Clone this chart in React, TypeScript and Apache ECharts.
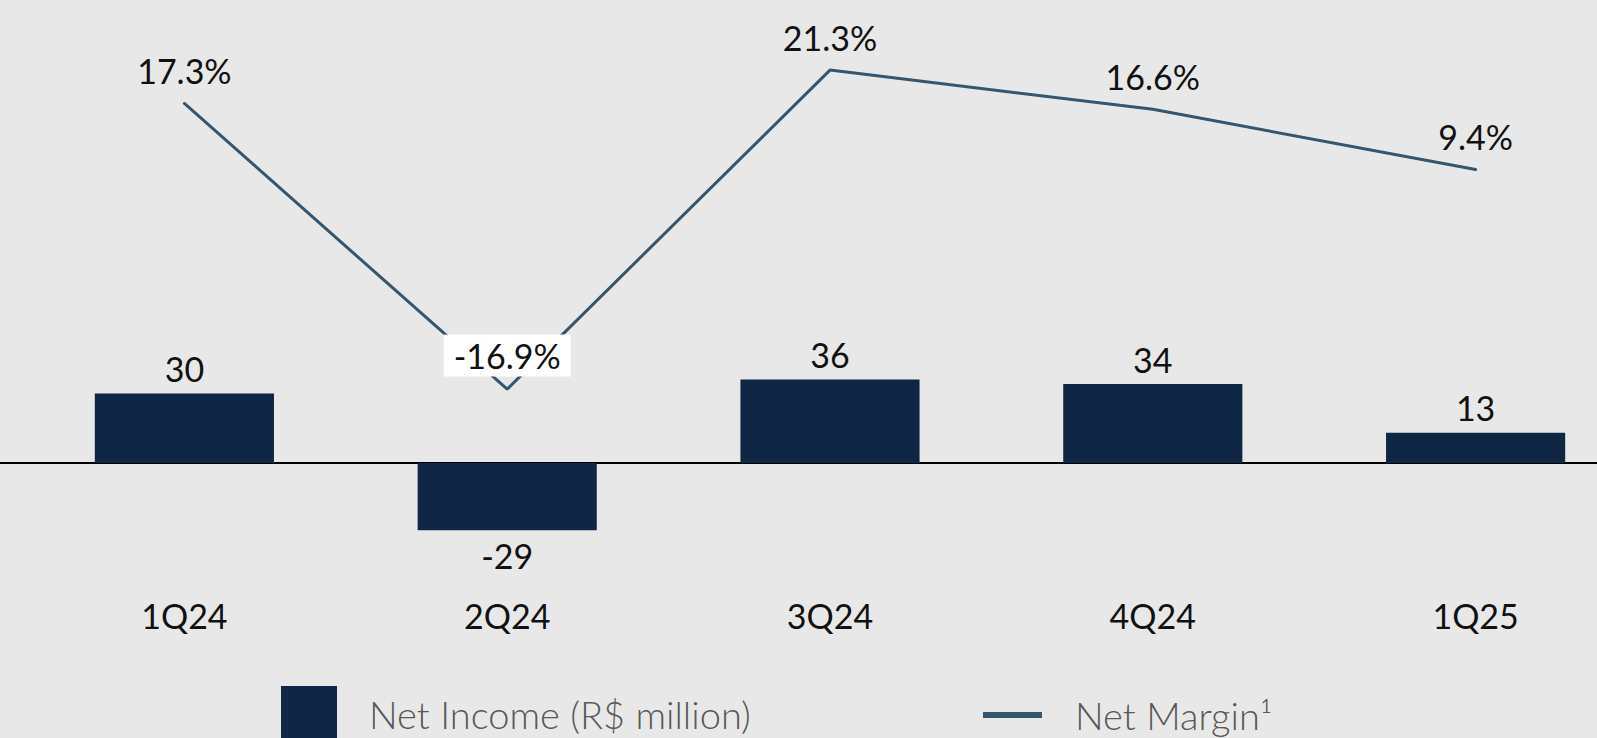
import React, { useEffect, useRef } from "react";
import * as echarts from "echarts";

const categories = ["1Q24", "2Q24", "3Q24", "4Q24", "1Q25"];
const netIncome = [30, -29, 36, 34, 13];
const netMargin = [17.3, -16.9, 21.3, 16.6, 9.4];
const barName = "Net Income (R$ million)";
const lineName = "Net Margin¹";

const FONT = "Lato, 'Noto Sans', sans-serif";
const BAR_COLOR = "#0F2744";
const LINE_COLOR = "#34566E";

export default function App() {
  const ref = useRef<HTMLDivElement>(null);
  useEffect(() => {
    if (!ref.current) return;
    const chart = echarts.init(ref.current, null, { renderer: "svg" });
    const labelText = { fontFamily: FONT, fontSize: 34, lineHeight: 40, color: "#111" };
    const legendText = { fontFamily: FONT, fontSize: 38, lineHeight: 38, color: "#595959", fontWeight: 300 };
    const barMin = -40;
    const barMax = 186.64;
    chart.setOption({
      animation: false,
      backgroundColor: "#E8E8E8",
      textStyle: { fontFamily: FONT },
      grid: [
        { left: 23, width: 1614, top: 30, height: 525.8, outerBoundsMode: "none", containLabel: false },
        { left: 0, width: 1597, top: 30, height: 525.8, outerBoundsMode: "none", containLabel: false },
      ],
      legend: [
        {
          data: [{ name: barName, icon: "rect" }],
          left: 281,
          top: 686,
          padding: 0,
          itemWidth: 56,
          itemHeight: 56,
          textStyle: { ...legendText, padding: [0, 0, 0, 27] },
        },
        {
          data: [{ name: lineName, icon: "rect" }],
          left: 983,
          top: 696,
          padding: 0,
          itemWidth: 59,
          itemHeight: 6,
          textStyle: { ...legendText, padding: [0, 0, 0, 28] },
        },
      ],
      xAxis: [
        {
          type: "category",
          data: categories,
          gridIndex: 0,
          axisLine: { show: false },
          axisTick: { show: false },
          axisLabel: { show: false },
        },
        {
          type: "category",
          data: categories,
          gridIndex: 0,
          position: "bottom",
          axisLine: { show: false, onZero: false },
          axisTick: { show: false },
          axisLabel: { ...labelText, margin: 40 },
        },
        {
          type: "category",
          data: categories,
          gridIndex: 1,
          axisLine: { show: true, onZero: true, lineStyle: { color: "#000", width: 2 } },
          axisTick: { show: false },
          axisLabel: { show: false },
        },
      ],
      yAxis: [
        { type: "value", gridIndex: 0, min: barMin, max: barMax, show: false, splitLine: { show: false } },
        { type: "value", gridIndex: 0, min: -36.86, max: 26.1, show: false, splitLine: { show: false } },
        { type: "value", gridIndex: 1, min: barMin, max: barMax, show: false, splitLine: { show: false } },
      ],
      series: [
        {
          name: barName,
          type: "bar",
          xAxisIndex: 0,
          yAxisIndex: 0,
          barWidth: "55.5%",
          color: BAR_COLOR,
          itemStyle: { color: BAR_COLOR },
          data: netIncome.map((v) => ({
            value: v,
            label: { position: v < 0 ? "bottom" : "top" },
          })),
          label: { show: true, ...labelText, distance: 5 },
        },
        {
          name: lineName,
          type: "line",
          xAxisIndex: 0,
          yAxisIndex: 1,
          color: LINE_COLOR,
          symbol: "circle",
          symbolSize: 1,
          showSymbol: true,
          itemStyle: { color: LINE_COLOR },
          lineStyle: { color: LINE_COLOR, width: 3, cap: "round" },
          z: 3,
          data: netMargin.map((v) => ({
            value: v,
            label:
              v < 0
                ? { backgroundColor: "#FFFFFF", padding: [1, 10, 1, 10] }
                : {},
          })),
          label: {
            show: true,
            position: "top",
            distance: 12,
            ...labelText,
            formatter: (p: any) => `${p.value.toFixed(1)}%`,
          },
        },
      ],
    });
    return () => chart.dispose();
  }, []);
  return (
    <div
      ref={ref}
      style={{ position: "fixed", left: 0, top: 0, width: 1597, height: 738 }}
    />
  );
}
